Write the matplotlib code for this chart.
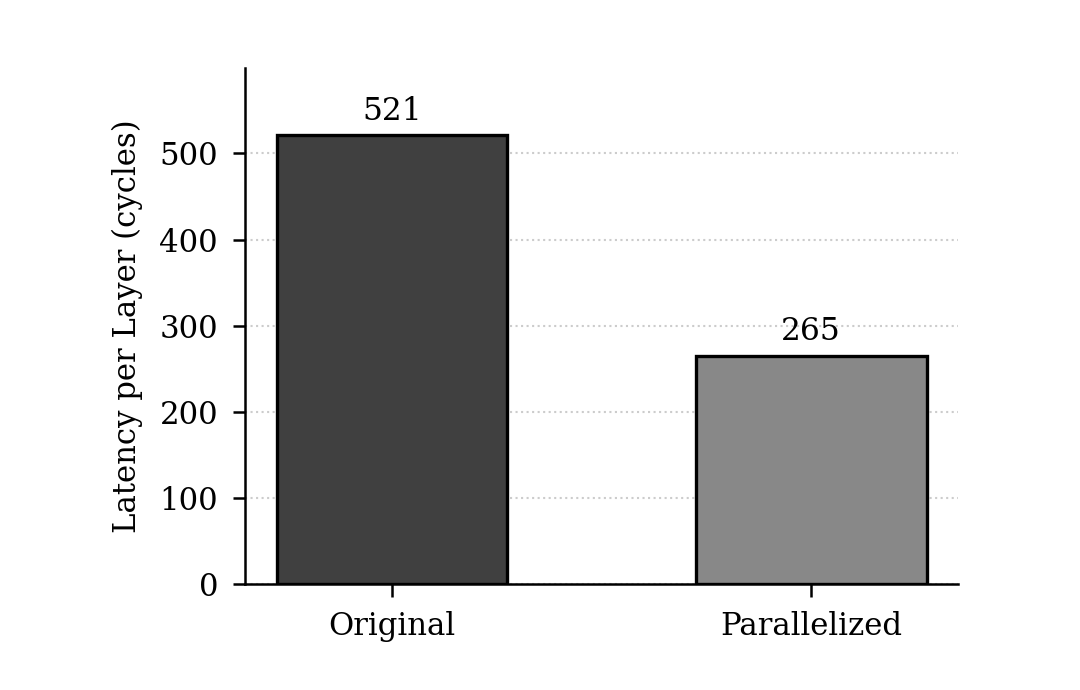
import numpy as np
import matplotlib
matplotlib.use('Agg')
import matplotlib.pyplot as plt

categories = ['Original', 'Parallelized']
latency = [521, 265]
colors = ['#404040', '#888888']

plt.rcParams['font.family'] = 'DejaVu Serif'
plt.rcParams['font.size'] = 7.4

fig = plt.figure(figsize=(3.6, 2.3), dpi=300)
ax = fig.add_axes([0.227, 0.154, 0.66, 0.747])

x = np.arange(len(categories))
bars = ax.bar(x, latency, width=0.55, color=colors, edgecolor='black', linewidth=0.8, zorder=3)
for b, v in zip(bars, latency):
    ax.text(b.get_x() + b.get_width() / 2, v + 10, str(v), ha='center', va='bottom', fontsize=7.5)

ax.set_xticks(x)
ax.set_xticklabels(categories)
ax.set_xlim(-0.35, 1.35)
ax.set_ylim(0, 599)
ax.set_yticks([0, 100, 200, 300, 400, 500])
ax.set_ylabel('Latency per Layer (cycles)')
ax.yaxis.grid(True, linestyle=':', linewidth=0.5, color='#cccccc', zorder=0)
ax.set_axisbelow(True)
ax.spines['top'].set_visible(False)
ax.spines['right'].set_visible(False)
for s in ['left', 'bottom']:
    ax.spines[s].set_linewidth(0.6)
ax.tick_params(width=0.6, length=3)

fig.savefig('out.png', dpi=300)
